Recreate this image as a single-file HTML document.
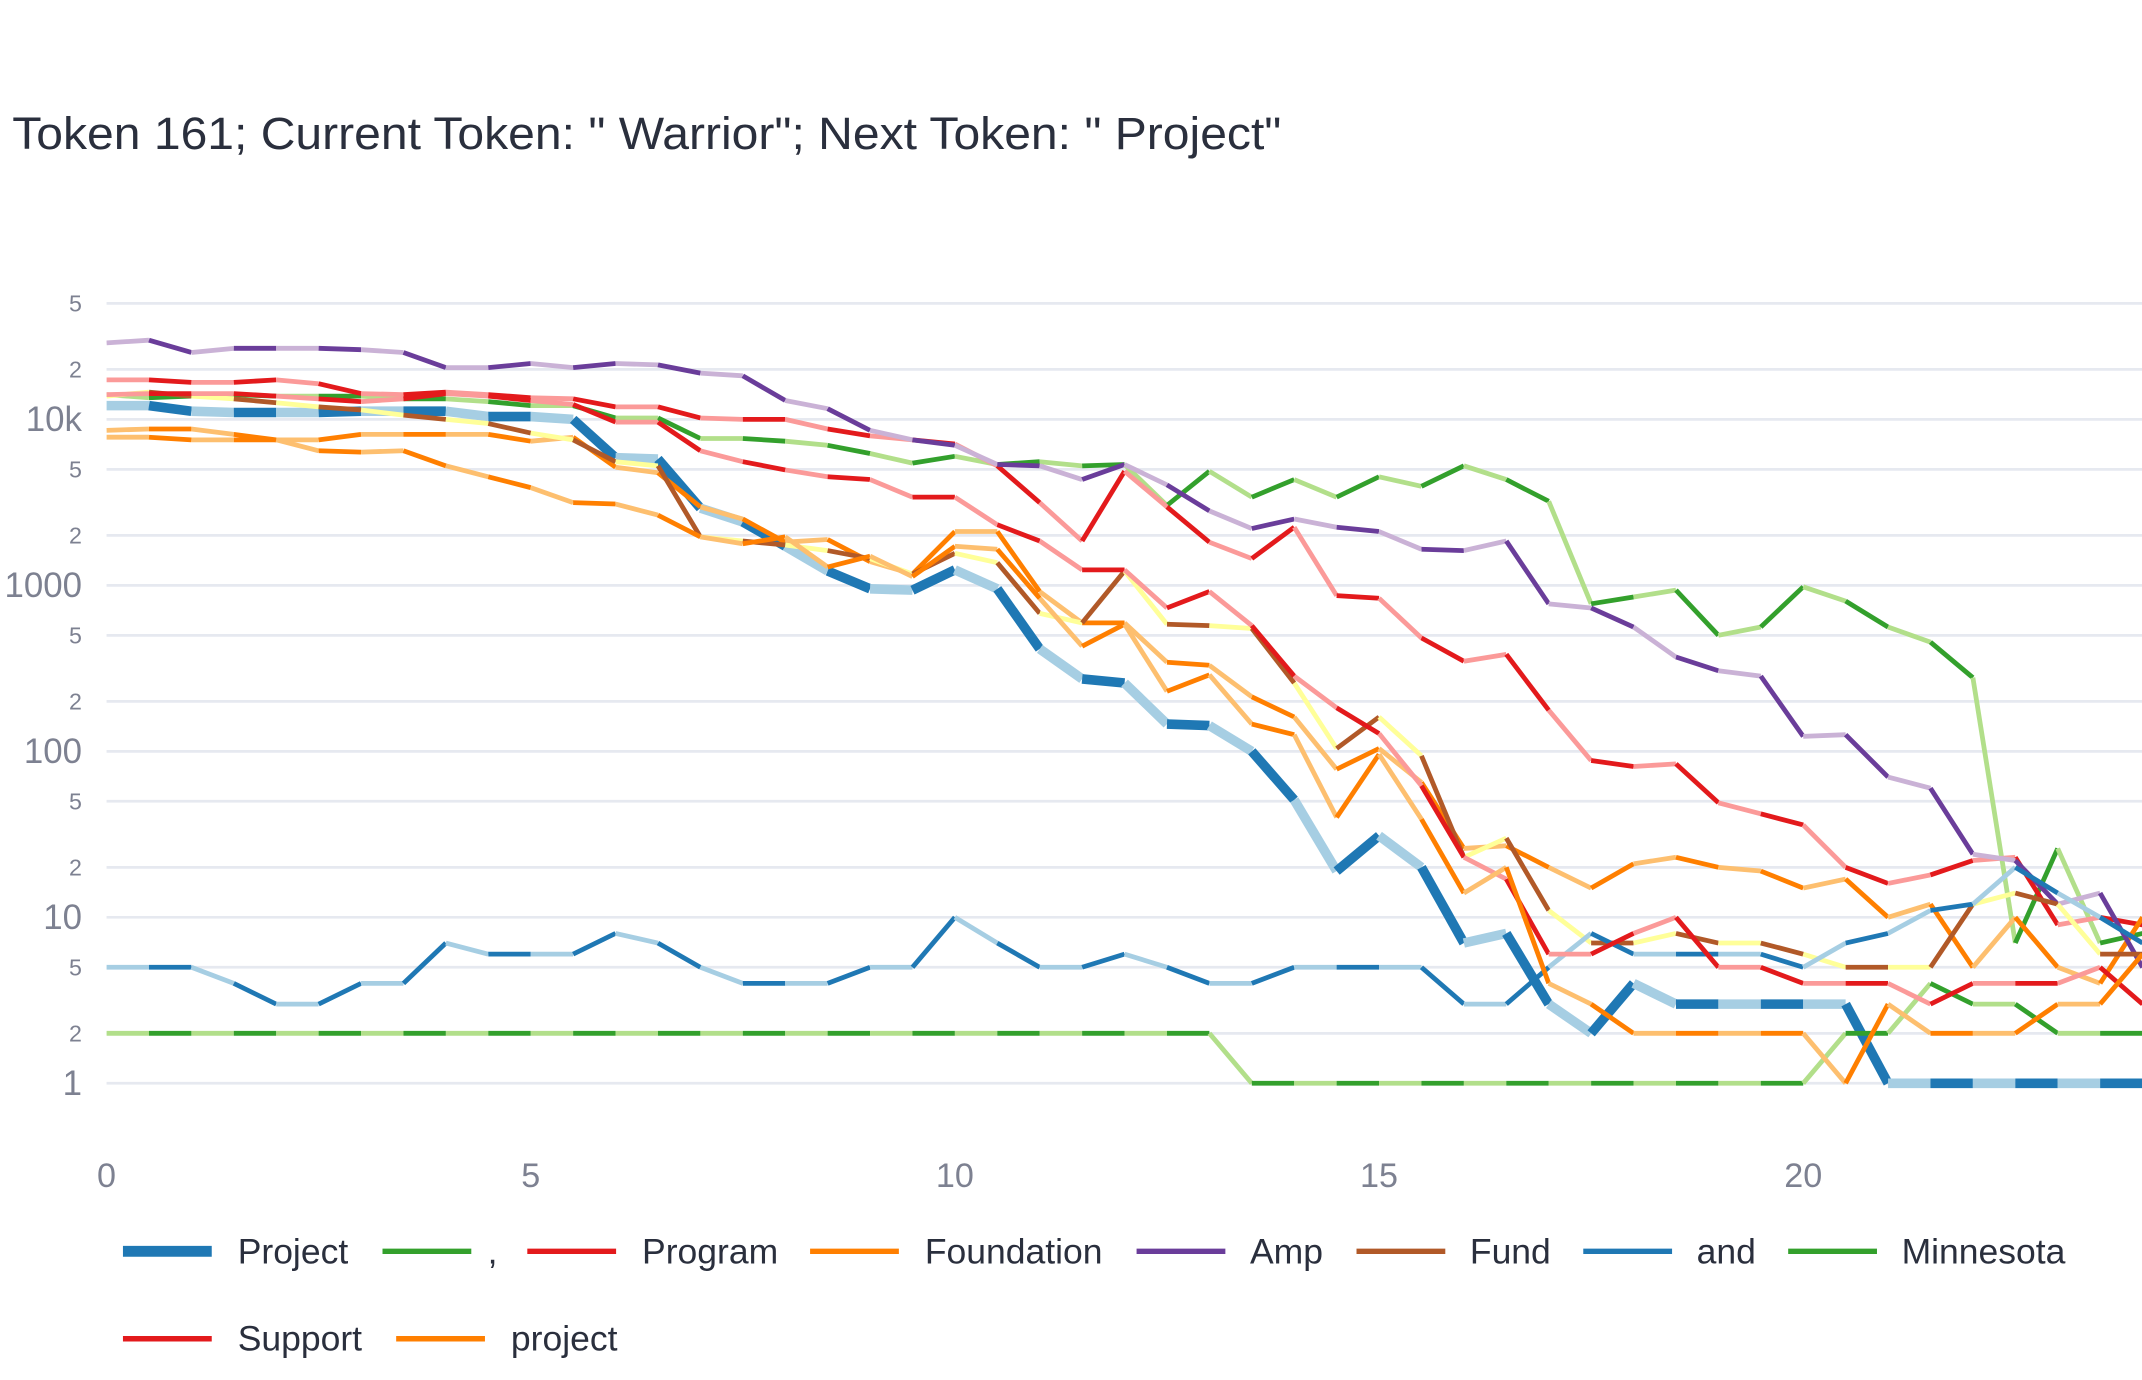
<!DOCTYPE html>
<html><head><meta charset="utf-8"><style>
html,body{margin:0;padding:0;background:#fff;}
svg{display:block;font-family:"Liberation Sans",Arial,sans-serif;}
</style></head><body>
<svg id="chart" width="2142" height="1380" viewBox="0 0 1568 1010.2" xmlns="http://www.w3.org/2000/svg">
<rect width="1568" height="1011" fill="#fff"/>
<text x="9" y="109" font-size="33" fill="#2a2f3d" textLength="929" lengthAdjust="spacingAndGlyphs">Token 161; Current Token: " Warrior"; Next Token: " Project"</text>
<g id="grid"></g>
<g id="yticks"></g>
<g id="xticks"></g>
<defs><clipPath id="plotclip"><rect x="78" y="180" width="1490" height="660"/></clipPath></defs>
<g id="series" clip-path="url(#plotclip)"></g>
<g id="legend"></g>
</svg>
<script>
const xCats = [0,0.5,1,1.5,2,2.5,3,3.5,4,4.5,5,5.5,6,6.5,7,7.5,8,8.5,9,9.5,10,10.5,11,11.5,12,12.5,13,13.5,14,14.5,15,15.5,16,16.5,17,17.5,18,18.5,19,19.5,20,20.5,21,21.5,22,22.5,23,23.5,24];
const seriesNames = ["Project", ",", "Program", "Foundation", "Amp", "Fund", "and", "Minnesota", "Support", "project"];
const projectVals = [12100,12100,11200,11000,11000,11000,11200,11200,11200,10400,10400,10000,5880,5770,2920,2410,1720,1220,953,936,1240,953,414,273,258,146,143,100,51,19,31,20,7,8,3,2,4,3,3,3,3,3,1,1,1,1,1,1,1];
const commaVals = [14100,13500,13800,14100,13800,13800,13800,13300,13300,12800,12100,12100,10200,10200,7670,7670,7390,6980,6230,5450,5990,5350,5560,5250,5350,3030,4870,3400,4340,3400,4510,3950,5250,4340,3210,774,851,936,500,561,980,804,561,455,278,7,26,7,8];
const programVals = [17300,17300,16700,16700,17300,16400,14300,14100,14600,14100,13500,13300,11900,11900,10200,10000,10000,8750,7960,7530,7110,5250,3150,1850,4870,2970,1820,1450,2240,867,836,482,349,384,177,88,81,84,49,42,36,20,16,18,22,23,9,10,9];
const foundationVals = [8590,8750,8750,8120,7530,7530,8120,8120,8120,8120,7390,7810,5150,4770,2970,2510,1820,1890,1390,1170,2110,2110,918,594,594,344,330,213,161,78,104,65,26,27,20,15,21,23,20,19,15,17,10,12,5,10,5,4,10];
const ampVals = [28900,30000,25300,26800,26800,26800,26300,25300,20500,20500,21700,20500,21700,21300,19000,18300,13000,11600,8590,7530,6980,5350,5250,4340,5350,4030,2810,2200,2510,2240,2110,1650,1620,1850,774,731,561,370,306,284,123,126,70,60,24,22,12,14,5];
const fundVals = [13800,14600,13800,13300,12600,11900,11400,10600,10000,9440,8270,7530,5560,5250,1960,1850,1750,1620,1450,1170,1560,1370,678,594,1220,583,572,550,258,104,161,94,23,30,11,7,7,8,7,7,6,5,5,5,12,14,12,6,6];
const andVals = [5,5,5,4,3,3,4,4,7,6,6,6,8,7,5,4,4,4,5,5,10,7,5,5,6,5,4,4,5,5,5,5,3,3,5,8,6,6,6,6,5,7,8,11,12,20,14,10,7];
const minnesotaVals = [2,2,2,2,2,2,2,2,2,2,2,2,2,2,2,2,2,2,2,2,2,2,2,2,2,2,2,1,1,1,1,1,1,1,1,1,1,1,1,1,1,2,2,4,3,3,2,2,2];
const supportVals = [14100,14300,14300,14300,13800,13300,12800,13300,14300,13800,13000,12300,9630,9630,6470,5560,4960,4510,4340,3400,3400,2320,1850,1240,1240,731,918,572,284,183,128,62,23,17,6,6,8,10,5,5,4,4,4,3,4,4,4,5,3];
const projectLowerVals = [7810,7810,7530,7530,7530,6470,6350,6470,5250,4510,3880,3150,3090,2650,1960,1780,1960,1290,1500,1130,1720,1650,836,430,583,230,289,146,126,40,96,39,14,20,4,3,2,2,2,2,2,1,3,2,2,2,3,3,6];
const yGridVals = [1,2,5,10,20,50,100,200,500,1000,2000,5000,10000,20000,50000];
const yTickLabels = ["1","2","5","10","2","5","100","2","5","1000","2","5","10k","2","5"];
const xTickVals = [0,5,10,15,20];
const xTickLabels = ["0","5","10","15","20"];

const NS = "http://www.w3.org/2000/svg";
const X0 = 78, XU = 62.1, Y1 = 793, YD = 121.5;
function xs(v){ return X0 + XU * v; }
function ys(v){ return Y1 - YD * Math.log10(v); }
function mk(tag, attrs, parent){ const e = document.createElementNS(NS, tag); for (const k in attrs) e.setAttribute(k, attrs[k]); parent.appendChild(e); return e; }

const grid = document.getElementById('grid');
const yt = document.getElementById('yticks');
yGridVals.forEach((v, i) => {
  const l = mk('line', {x1: X0, x2: 1568, y1: ys(v), y2: ys(v), stroke: '#e6e9f0', 'stroke-width': 2}, grid);
  
  
  const major = Number.isInteger(Math.log10(v));
  const t = mk('text', {x: 60, y: ys(v), 'text-anchor': 'end', 'dominant-baseline': 'central', 'font-size': major ? 25.5 : 17, fill: '#7d8191'}, yt);
  t.textContent = yTickLabels[i];
  
  
});
const xt = document.getElementById('xticks');
xTickVals.forEach((v, i) => {
  const t = mk('text', {x: xs(v), y: 861, 'text-anchor': 'middle', 'dominant-baseline': 'central', 'font-size': 25, fill: '#7d8191'}, xt);
  t.textContent = xTickLabels[i];
  
  
});

const seriesData = [projectVals, commaVals, programVals, foundationVals, ampVals, fundVals, andVals, minnesotaVals, supportVals, projectLowerVals];
const darkC = ['#1f78b4','#33a02c','#e31a1c','#ff7f00','#6a3d9a','#b15928','#1f78b4','#33a02c','#e31a1c','#ff7f00'];
const lightC = ['#a6cee3','#b2df8a','#fb9a99','#fdbf6f','#cab2d6','#ffff99','#a6cee3','#b2df8a','#fb9a99','#fdbf6f'];
const widths = [7,3.5,3.5,3.5,3.5,3.5,3.5,3.5,3.5,3.5];
const sg = document.getElementById('series');
seriesData.forEach((vals, s) => {
  const g = mk('g', {}, sg);
  
  
  for (let i = 0; i < vals.length - 1; i++) {
    const seg = mk('line', {x1: xs(xCats[i]), y1: ys(vals[i]), x2: xs(xCats[i+1]), y2: ys(vals[i+1]), stroke: i % 2 === 0 ? lightC[s] : darkC[s], 'stroke-width': widths[s], 'stroke-linecap': 'butt'}, g);
    
    
  }
});

const legendPos = [[90,916,174],[280,916,357],[386,916,470],[593,916,677],[832,916,915],[993,916,1076],[1159,916,1242],[1309,916,1392],[90,980,174],[290,980,374]];
const lg = document.getElementById('legend');
seriesNames.forEach((n, s) => {
  const p = legendPos[s];
  const g = mk('g', {}, lg);
  
  
  const l = mk('line', {x1: p[0], x2: p[0] + 65, y1: p[1], y2: p[1], stroke: darkC[s], 'stroke-width': s === 0 ? 8 : 4}, g);
  
  
  const t = mk('text', {x: p[2], y: p[1], 'dominant-baseline': 'central', 'font-size': 26, fill: '#2a2f3d'}, g);
  t.textContent = n;
  
  
});
</script>
</body></html>
